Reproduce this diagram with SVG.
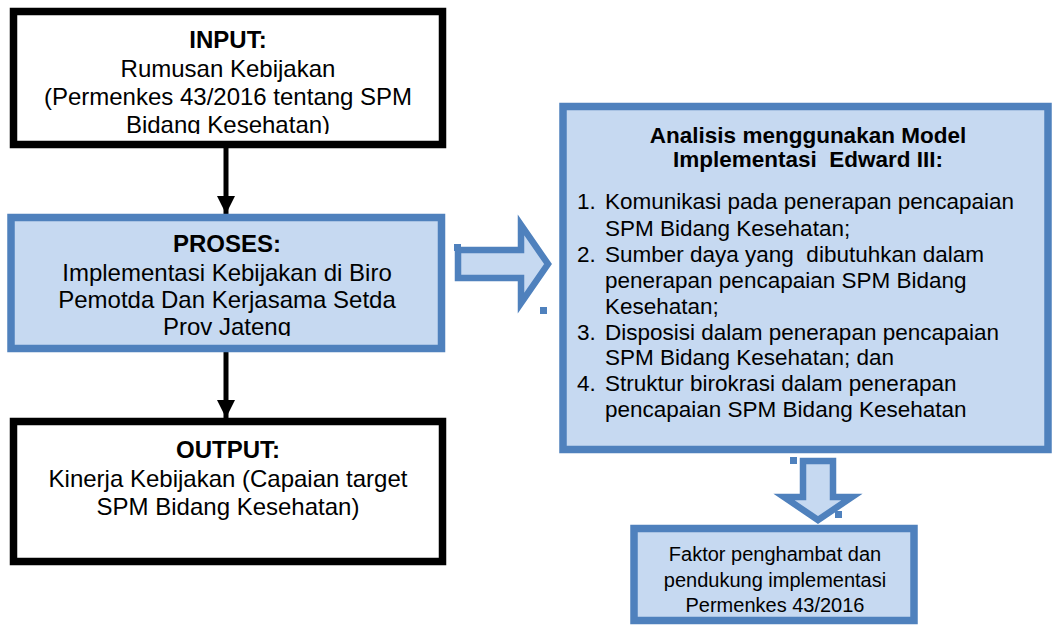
<svg xmlns="http://www.w3.org/2000/svg" width="1052" height="625" viewBox="0 0 1052 625">
<style>
  .blk { fill: #ffffff; stroke: #000000; stroke-width: 7.5; }
  .blu { fill: #c6d9f1; stroke: #4f81bd; stroke-width: 7.5; }
  .t { font-family: "Liberation Sans", Arial, sans-serif; fill: #000000; }
  .c { text-anchor: middle; }
  .b { font-weight: bold; }
  .l24 { font-size: 24px; }
  .l22 { font-size: 22.5px; }
  .l20 { font-size: 20px; }
  .conn { stroke: #000000; stroke-width: 5; fill: none; }
  .barrow { fill: #c6d9f1; stroke: #4f81bd; stroke-width: 6.5; stroke-linejoin: miter; }
  .dot { fill: #4f81bd; }
</style>
<defs>
  <marker id="ah" viewBox="0 0 10 10" refX="10" refY="5" markerWidth="3.6" markerHeight="3.6" orient="auto" markerUnits="strokeWidth">
    <path d="M0,0 L10,5 L0,10 Z" fill="#000000"/>
  </marker>
  <clipPath id="clipIn"><rect x="15" y="15" width="425" height="119"/></clipPath>
  <clipPath id="clipPr"><rect x="15" y="221" width="425" height="115"/></clipPath>
</defs>

<g id="connectors">
  <line class="conn" x1="226" y1="148" x2="226" y2="214" marker-end="url(#ah)"/>
  <line class="conn" x1="226" y1="350" x2="226" y2="418" marker-end="url(#ah)"/>
  <path class="barrow" d="M458,250 L521,250 L521,225 L548,264 L521,303 L521,278 L458,278 Z"/>
  <rect class="dot" x="454" y="244" width="7" height="7"/>
  <rect class="dot" x="540" y="307" width="7" height="7"/>
  <path class="barrow" d="M803,461 L833,461 L833,497 L852,497 L818,520 L784,497 L803,497 Z"/>
  <rect class="dot" x="790" y="457" width="7" height="7"/>
  <rect class="dot" x="835" y="511" width="7" height="7"/>
</g>

<g id="input">
  <rect class="blk" x="13.5" y="11.5" width="429" height="133"/>
  <g clip-path="url(#clipIn)">
    <text class="t c b l24" x="228" y="48">INPUT:</text>
    <text class="t c l24" x="228" y="77">Rumusan Kebijakan</text>
    <text class="t c l24" x="228" y="105">(Permenkes 43/2016 tentang SPM</text>
    <text class="t c l24" x="228" y="133">Bidang Kesehatan)</text>
  </g>
</g>

<g id="proses">
  <rect class="blu" x="11" y="217.5" width="430.5" height="131"/>
  <g clip-path="url(#clipPr)">
    <text class="t c b l24" x="227" y="252">PROSES:</text>
    <text class="t c l24" x="227" y="281">Implementasi Kebijakan di Biro</text>
    <text class="t c l24" x="227" y="308">Pemotda Dan Kerjasama Setda</text>
    <text class="t c l24" x="227" y="335">Prov Jateng</text>
  </g>
</g>

<g id="output">
  <rect class="blk" x="13.5" y="421.5" width="429" height="140"/>
  <text class="t c b l24" x="228" y="458">OUTPUT:</text>
  <text class="t c l24" x="228" y="487">Kinerja Kebijakan (Capaian target</text>
  <text class="t c l24" x="228" y="515">SPM Bidang Kesehatan)</text>
</g>

<g id="analisis">
  <rect class="blu" x="563" y="106.5" width="485" height="343"/>
  <text class="t c b l22" x="808" y="143">Analisis menggunakan Model</text>
  <text class="t c b l22" x="808" y="167" xml:space="preserve">Implementasi  Edward III:</text>
  <text class="t l22" x="577" y="209">1.</text>
  <text class="t l22" x="605" y="209">Komunikasi pada penerapan pencapaian</text>
  <text class="t l22" x="605" y="236">SPM Bidang Kesehatan;</text>
  <text class="t l22" x="577" y="262">2.</text>
  <text class="t l22" x="605" y="262" xml:space="preserve">Sumber daya yang  dibutuhkan dalam</text>
  <text class="t l22" x="605" y="288">penerapan pencapaian SPM Bidang</text>
  <text class="t l22" x="605" y="314">Kesehatan;</text>
  <text class="t l22" x="577" y="340">3.</text>
  <text class="t l22" x="605" y="340">Disposisi dalam penerapan pencapaian</text>
  <text class="t l22" x="605" y="365">SPM Bidang Kesehatan; dan</text>
  <text class="t l22" x="577" y="391">4.</text>
  <text class="t l22" x="605" y="391">Struktur birokrasi dalam penerapan</text>
  <text class="t l22" x="605" y="417">pencapaian SPM Bidang Kesehatan</text>
</g>

<g id="faktor">
  <rect class="blu" x="634" y="528.5" width="280" height="92"/>
  <text class="t c l20" x="775" y="561">Faktor penghambat dan</text>
  <text class="t c l20" x="775" y="587">pendukung implementasi</text>
  <text class="t c l20" x="775" y="612">Permenkes 43/2016</text>
</g>
</svg>
